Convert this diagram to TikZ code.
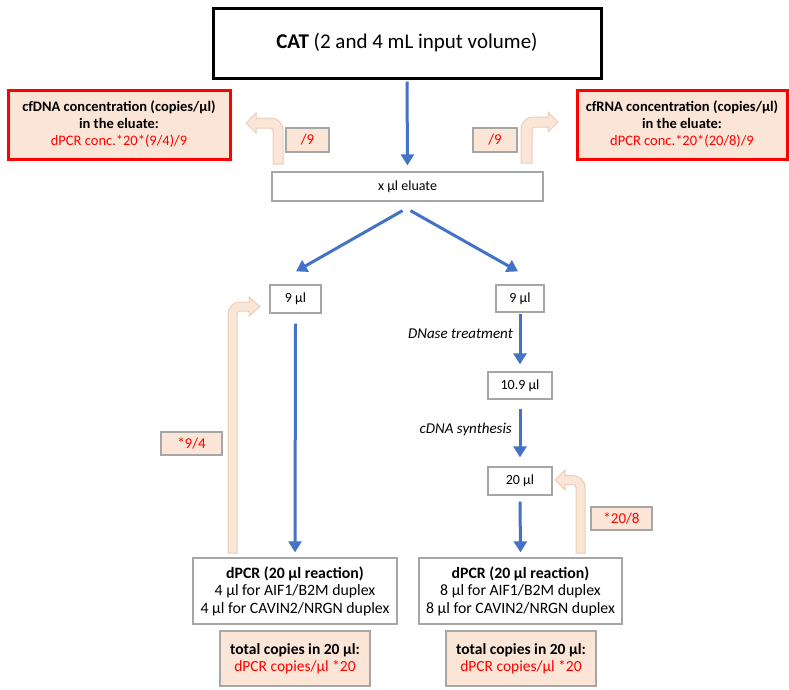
\documentclass[tikz,border=0pt]{standalone}
\usepackage{fontspec}
\setmainfont{Carlito}
\usetikzlibrary{arrows.meta}
\definecolor{flowblue}{HTML}{4472C4}
\definecolor{peach}{HTML}{FBE5D6}
\definecolor{peachline}{HTML}{EDCDB9}
\definecolor{boxgray}{HTML}{A6A6A6}
\definecolor{alert}{HTML}{FF0000}

\begin{document}
\begin{tikzpicture}[x=1pt,y=-1pt,
  txt/.style={font=\fontsize{15}{17}\selectfont, align=center, inner sep=0pt},
  small/.style={font=\fontsize{14}{17}\selectfont},
  big/.style={font=\fontsize{15.8}{17.5}\selectfont},
  graybox/.style={txt, draw=boxgray, line width=1.3pt, fill=white},
  peachbox/.style={graybox, fill=peach},
  redbox/.style={txt, font=\fontsize{14.5}{17}\selectfont, draw=alert, line width=3pt, fill=peach},
  flow/.style={draw=flowblue, line width=3pt, -{Triangle[width=13pt,length=11pt]}},
  backarrow/.style={fill=peach, draw=peachline, line width=1pt},
  note/.style={font=\fontsize{15}{17}\selectfont\itshape, inner sep=0pt},
]
\useasboundingbox (0,0) rectangle (789,689);

% input and eluate
\node[txt, draw=black, line width=3pt, minimum width=388, minimum height=70,
      font=\fontsize{21}{24}\selectfont] (cat) at (407,43)
      {\textbf{CAT} (2 and 4 mL input volume)};
\node[graybox, small, minimum width=271, minimum height=29] (elu) at (407.5,186.5) {x µl eluate};

% result boxes
\node[redbox, minimum width=222, minimum height=69] (dnaconc) at (119,124.5)
  {\textbf{cfDNA concentration (copies/µl)}\\ \textbf{in the eluate:}\\ \textcolor{alert}{dPCR conc.*20*(9/4)/9}};
\node[redbox, minimum width=210, minimum height=69] (rnaconc) at (682,124.5)
  {\textbf{cfRNA concentration (copies/µl)}\\ \textbf{in the eluate:}\\ \textcolor{alert}{dPCR conc.*20*(20/8)/9}};

% factor boxes
\node[peachbox, minimum width=43, minimum height=24, text=alert] (divl) at (307.5,140) {/9};
\node[peachbox, minimum width=44, minimum height=24, text=alert] (divr) at (495,140) {/9};
\node[peachbox, minimum width=61, minimum height=23, text=alert] (mull) at (191.5,443.5) {*9/4};
\node[peachbox, minimum width=61, minimum height=23, text=alert] (mulr) at (621.5,518.5) {*20/8};

% volume boxes
\node[graybox, small, minimum width=51, minimum height=28] (lft9) at (295.5,299) {9 µl};
\node[graybox, small, minimum width=48, minimum height=27] (rgt9) at (520,298.5) {9 µl};
\node[graybox, small, minimum width=64, minimum height=27] (r109) at (520,385.5) {10.9 µl};
\node[graybox, small, minimum width=64, minimum height=28] (r20) at (520,481) {20 µl};

% dPCR boxes
\node[graybox, big, minimum width=204, minimum height=66] (ldpcr) at (295,591)
  {\textbf{dPCR (20 µl reaction)}\\ 4 µl for AIF1/B2M duplex\\ 4 µl for CAVIN2/NRGN duplex};
\node[graybox, big, minimum width=203, minimum height=66] (rdpcr) at (520.5,591)
  {\textbf{dPCR (20 µl reaction)}\\ 8 µl for AIF1/B2M duplex\\ 8 µl for CAVIN2/NRGN duplex};
\node[peachbox, font=\fontsize{15.5}{17}\selectfont, minimum width=150, minimum height=55] (ltot) at (295,658.5)
  {\textbf{total copies in 20 µl:}\\ \textcolor{alert}{dPCR copies/µl *20}};
\node[peachbox, font=\fontsize{15.5}{17}\selectfont, minimum width=150, minimum height=55] (rtot) at (521,658.5)
  {\textbf{total copies in 20 µl:}\\ \textcolor{alert}{dPCR copies/µl *20}};

% step labels
\node[note, anchor=east] (dnase) at (513,334) {DNase treatment};
\node[note, anchor=east] (cdna) at (512,429) {cDNA synthesis};

% sample flow
\draw[flow] ([yshift=-2pt]cat.south) -- ([yshift=6pt]elu.north);
\draw[flow] ([xshift=-5pt,yshift=-9pt]elu.south) -- ([xshift=0.5pt,yshift=13pt]lft9.north);
\draw[flow] ([xshift=3pt,yshift=-9pt]elu.south) -- ([xshift=-2pt,yshift=13pt]rgt9.north);
\draw[flow] ([yshift=-10pt]lft9.south) -- ([yshift=5pt]ldpcr.north);
\draw[flow] ([yshift=-1pt]rgt9.south) -- ([yshift=7pt]r109.north);
\draw[flow] ([yshift=-9pt]r109.south) -- ([yshift=9pt]r20.north);
\draw[flow] ([yshift=-6pt]r20.south) -- ([yshift=5pt]rdpcr.north);

% back-calculation arrows
\draw[backarrow] (273,164) -- (273,131) arc(0:-90:3) -- (256,128) -- (256,133) -- (246,123)
  -- (256,113) -- (256,118) -- (271,118) arc(270:360:12) -- (283,164) -- cycle;
\draw[backarrow] (532,163) -- (532,130) arc(180:270:3) -- (548,127) -- (548,132) -- (558,122)
  -- (548,112) -- (548,117) -- (533,117) arc(270:180:12) -- (521,163) -- cycle;
\draw[backarrow] (237,553) -- (237,314) arc(180:270:3) -- (249,311) -- (249,316) -- (260,306.5)
  -- (249,297) -- (249,302) -- (240,302) arc(270:180:12) -- (228,553) -- cycle;
\draw[backarrow] (576,553) -- (576,487.5) arc(0:-90:3) -- (565,484.5) -- (565,490) -- (555,480)
  -- (565,470) -- (565,475.5) -- (573,475.5) arc(270:360:12) -- (585,553) -- cycle;
\end{tikzpicture}
\end{document}
